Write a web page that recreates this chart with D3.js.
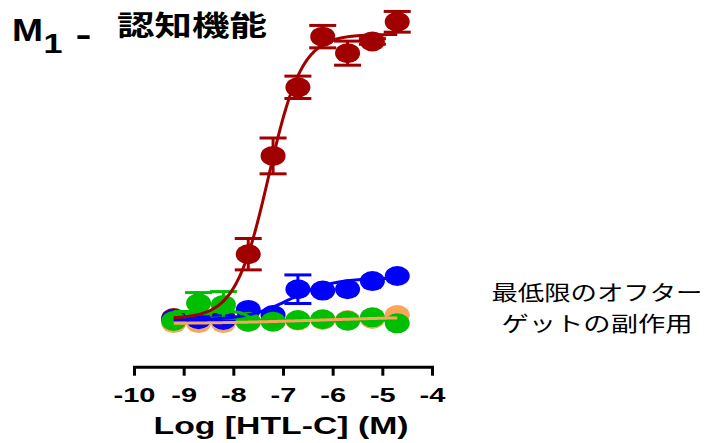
<!DOCTYPE html>
<html>
<head>
<meta charset="utf-8">
<script src="https://cdn.jsdelivr.net/npm/d3@7"></script>
<style>
  html, body { margin: 0; padding: 0; background: #fff; }
  svg { display: block; }
</style>
</head>
<body>
<svg id="chart" width="708" height="443"></svg>
<script>
// Concentrations (log M) tested for every receptor series
const logConc = [-9.2, -8.7, -8.2, -7.7, -7.2, -6.7, -6.2, -5.7, -5.2, -4.7];

// Responses (% of max) and SEM for each series
const redValues    = [0.7, 0.7, 0.7, 23.5, 58.6, 83.1, 101.2, 95.3, 99.5, 106.5];
const redErrors    = [0, 0, 0, 5.6, 6.4, 4.0, 4.0, 4.3, 1.0, 3.7];
const orangeValues = [-1.1, -1.1, -1.1, -0.7, -0.35, -0.2, 0, 0, 0.35, 1.8];
const orangeErrors = [0, 0, 0, 0, 0, 0, 0, 0, 0, 0];
const blueValues   = [0.25, 0.25, 0, 3.6, 1.8, 11.0, 10.5, 11.0, 13.9, 15.7];
const blueErrors   = [0, 0, 0, 0, 0, 5.1, 0, 0, 0, 0];
const greenValues  = [-0.35, 6.0, 5.4, -0.6, -0.6, 0, 0.25, -0.25, 0.95, -1.2];
const greenErrors  = [0, 3.8, 4.75, 0, 0, 0, 0, 0, 0, 0];

// Four-parameter logistic fits: [bottom, top, logEC50, hill]
const redFit    = [0.5, 102, -7.29, 1.3];
const orangeFit = [-1.4, 1.4, -6.2, 0.35];
const blueFit   = [0, 15, -6.85, 1.0];
const greenFit  = [3.0, -0.1, -7.72, 6];

// Axis ticks and texts
const xTicks = [-10, -9, -8, -7, -6, -5, -4];
const xTitle = "Log [HTL-C] (M)";
const titleMain = "M";
const titleSub = "1";
const titleDash = "-";
const titleJa = "認知機能";
const noteLines = ["最低限のオフター", "ゲットの副作用"];

const colors = { red: "#a00000", orange: "#f9a55a", blue: "#0000ff", green: "#00bf00" };

const svg = d3.select("#chart");
const x = d3.scaleLinear().domain([-10, -4]).range([134, 432]);
const y = d3.scaleLinear().domain([0, 100]).range([320, 40]);

const logistic = p => v => p[0] + (p[1] - p[0]) / (1 + Math.pow(10, (p[2] - v) * p[3]));

const series = [
  { key: "red",    values: redValues,    errors: redErrors,    fit: redFit },
  { key: "orange", values: orangeValues, errors: orangeErrors, fit: orangeFit },
  { key: "blue",   values: blueValues,   errors: blueErrors,   fit: blueFit },
  { key: "green",  values: greenValues,  errors: greenErrors,  fit: greenFit }
];

const capHalf = 13.5, rx = 12.5, ry = 10;

// Symbols with error bars
series.forEach(s => {
  const g = svg.append("g").attr("class", "series-" + s.key);
  const pts = logConc.map((c, i) => ({ c, v: s.values[i], e: s.errors[i] }));
  const withErr = pts.filter(d => d.e > 0);
  const eb = g.selectAll("g.err").data(withErr).join("g").attr("class", "err")
    .attr("stroke", colors[s.key]).attr("stroke-width", 3);
  eb.append("line").attr("x1", d => x(d.c)).attr("x2", d => x(d.c))
    .attr("y1", d => y(d.v + d.e)).attr("y2", d => y(d.v - d.e));
  eb.append("line").attr("x1", d => x(d.c) - capHalf).attr("x2", d => x(d.c) + capHalf)
    .attr("y1", d => y(d.v + d.e)).attr("y2", d => y(d.v + d.e));
  eb.append("line").attr("x1", d => x(d.c) - capHalf).attr("x2", d => x(d.c) + capHalf)
    .attr("y1", d => y(d.v - d.e)).attr("y2", d => y(d.v - d.e));
  g.selectAll("ellipse").data(pts).join("ellipse")
    .attr("cx", d => x(d.c)).attr("cy", d => y(d.v))
    .attr("rx", rx).attr("ry", ry)
    .attr("fill", colors[s.key]);
});

// Fitted curves over the tested range
const curveOrder = ["blue", "green", "orange", "red"];
const samples = d3.range(logConc[0], logConc[logConc.length - 1] + 0.001, 0.01);
const line = d3.line().x(d => x(d[0])).y(d => y(d[1]));
curveOrder.forEach(k => {
  const s = series.find(t => t.key === k);
  const f = logistic(s.fit);
  svg.append("path")
    .attr("d", line(samples.map(v => [v, f(v)])))
    .attr("fill", "none")
    .attr("stroke", colors[k])
    .attr("stroke-width", 3);
});

// X axis
const axisY = 366.7;
const axis = svg.append("g")
  .attr("transform", `translate(0,${axisY})`)
  .call(d3.axisBottom(x).tickValues(xTicks).tickSize(9).tickSizeOuter(0).tickFormat(d3.format("d")));
axis.select(".domain").attr("stroke", "#000").attr("stroke-width", 3).attr("stroke-linecap", "square");
axis.selectAll(".tick line").attr("stroke", "#000").attr("stroke-width", 3);
axis.selectAll(".tick text")
  .attr("y", 35.3).attr("dy", null)
  .attr("transform", "scale(1.38,1)")
  .attr("fill", "#000")
  .style("font-family", "'Liberation Sans', Arial, sans-serif")
  .style("font-weight", "bold")
  .style("font-size", "21px")
  .text(d => (d < 0 ? "-" : "") + Math.abs(d));

svg.append("g")
  .attr("transform", `translate(${(x(-10) + x(-4)) / 2 - 2},434)`)
  .append("text")
  .attr("text-anchor", "middle")
  .attr("transform", "scale(1.45,1)")
  .style("font-family", "'Liberation Sans', Arial, sans-serif")
  .style("font-weight", "bold")
  .style("font-size", "23.3px")
  .text(xTitle);

// Title
const latin = "'Liberation Sans', Arial, sans-serif";
svg.append("text").attr("x", 12).attr("y", 41)
  .attr("textLength", 31).attr("lengthAdjust", "spacingAndGlyphs")
  .style("font-family", latin).style("font-weight", "bold").style("font-size", "32px")
  .text(titleMain);
svg.append("text").attr("x", 43.5).attr("y", 53.3)
  .attr("textLength", 19).attr("lengthAdjust", "spacingAndGlyphs")
  .style("font-family", latin).style("font-weight", "bold").style("font-size", "27px")
  .text(titleSub);
svg.append("text").attr("x", 75.5).attr("y", 44.5)
  .attr("textLength", 16).attr("lengthAdjust", "spacingAndGlyphs")
  .style("font-family", latin).style("font-weight", "bold").style("font-size", "32px")
  .text(titleDash);
svg.append("text").attr("x", 117).attr("y", 36)
  .attr("textLength", 150).attr("lengthAdjust", "spacingAndGlyphs")
  .style("font-family", "'Noto Sans CJK JP', sans-serif").style("font-weight", "bold").style("font-size", "28px")
  .text(titleJa);

// Side note
svg.selectAll("text.note").data(noteLines).join("text")
  .attr("class", "note")
  .attr("x", 597).attr("y", (d, i) => 300 + i * 31)
  .attr("text-anchor", "middle")
  .attr("textLength", (d, i) => i === 0 ? 211 : 191)
  .attr("lengthAdjust", "spacingAndGlyphs")
  .style("font-family", "'Noto Sans CJK JP', sans-serif")
  .style("font-size", "21px")
  .attr("fill", "#000")
  .text(d => d);
</script>
</body>
</html>
